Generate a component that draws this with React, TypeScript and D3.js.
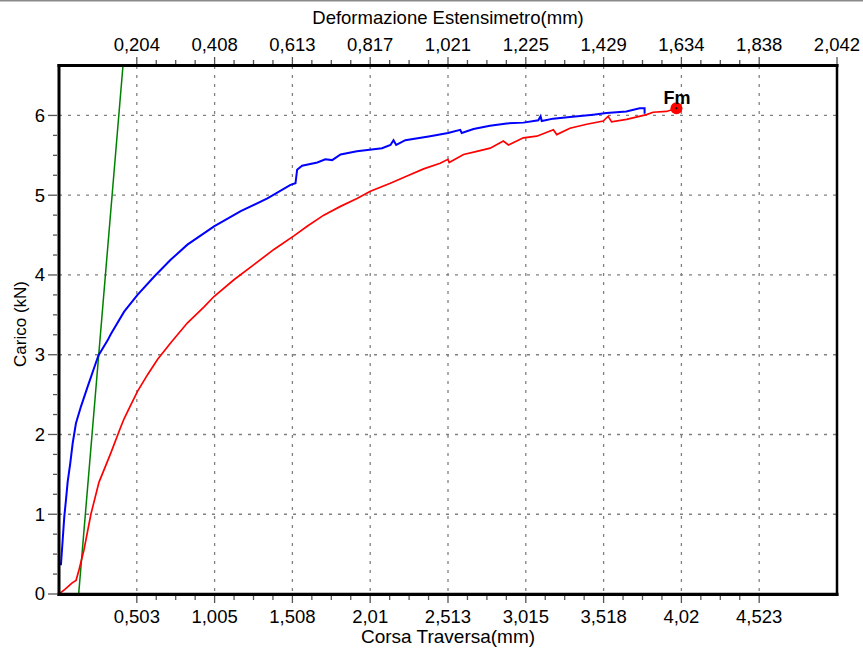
import React from 'react'
import * as d3 from 'd3'

// curva traversa (mm corsa traversa, kN)
const redCurve: [number, number][] = [
  [0, 0], [0.04, 0.06], [0.085, 0.14], [0.11, 0.17], [0.129, 0.3], [0.161, 0.55],
  [0.206, 1.0], [0.258, 1.4], [0.335, 1.77], [0.4, 2.1], [0.421, 2.2], [0.464, 2.37],
  [0.507, 2.54], [0.572, 2.75], [0.636, 2.94], [0.722, 3.15], [0.83, 3.4], [0.937, 3.6],
  [1.001, 3.73], [1.13, 3.94], [1.259, 4.13], [1.388, 4.32], [1.517, 4.49], [1.603, 4.61],
  [1.71, 4.75], [1.818, 4.86], [1.925, 4.96], [2.011, 5.05], [2.14, 5.15], [2.248, 5.24],
  [2.355, 5.33], [2.462, 5.4], [2.512, 5.45], [2.52, 5.41], [2.613, 5.51], [2.699, 5.55],
  [2.785, 5.59], [2.87, 5.68], [2.903, 5.63], [2.999, 5.72], [3.086, 5.74], [3.193, 5.82],
  [3.215, 5.76], [3.3, 5.84], [3.408, 5.89], [3.515, 5.93], [3.547, 5.99], [3.569, 5.92],
  [3.666, 5.95], [3.795, 6.01], [3.837, 6.04], [3.924, 6.05], [3.988, 6.09]
]

// curva estensimetro (mm deformazione, kN)
const blueCurve: [number, number][] = [
  [0.005, 0.36], [0.0097, 0.68], [0.0139, 0.97], [0.0183, 1.18], [0.0228, 1.41],
  [0.0296, 1.64], [0.0359, 1.89], [0.0445, 2.14], [0.0576, 2.35], [0.0752, 2.6],
  [0.0925, 2.84], [0.1035, 2.99], [0.1276, 3.18], [0.1362, 3.26], [0.171, 3.54],
  [0.206, 3.75], [0.25, 3.98], [0.293, 4.19], [0.337, 4.38], [0.407, 4.61], [0.477, 4.8],
  [0.547, 4.96], [0.6076, 5.13], [0.6207, 5.15], [0.625, 5.32], [0.638, 5.37], [0.678, 5.41],
  [0.699, 5.45], [0.717, 5.44], [0.739, 5.51], [0.782, 5.55], [0.848, 5.59], [0.87, 5.63],
  [0.878, 5.69], [0.885, 5.63], [0.909, 5.69], [0.974, 5.74], [1.021, 5.78], [1.053, 5.82],
  [1.057, 5.78], [1.088, 5.83], [1.131, 5.87], [1.175, 5.9], [1.219, 5.91], [1.258, 5.94],
  [1.264, 5.99], [1.267, 5.93], [1.297, 5.96], [1.341, 5.98], [1.402, 6.01], [1.437, 6.03],
  [1.489, 6.05], [1.524, 6.09], [1.537, 6.09], [1.537, 6.02]
]

// retta del modulo (corsa traversa)
const greenLine: [number, number][] = [[0.127, 0], [0.413, 6.62]]

const fmPoint: [number, number] = [3.988, 6.09]

const bottomTicks = [0.5025, 1.005, 1.5075, 2.01, 2.5125, 3.015, 3.5175, 4.02, 4.5225]
const bottomLabels = ['0,503', '1,005', '1,508', '2,01', '2,513', '3,015', '3,518', '4,02', '4,523']
const topTicks = [0.2042, 0.4084, 0.6126, 0.8168, 1.021, 1.2252, 1.4294, 1.6336, 1.8378, 2.042]
const topLabels = ['0,204', '0,408', '0,613', '0,817', '1,021', '1,225', '1,429', '1,634', '1,838', '2,042']
const yTicks = [0, 1, 2, 3, 4, 5, 6]

const W = 863
const H = 653
const font = '"Liberation Sans", Arial, sans-serif'

const App = () => {
  const x = d3.scaleLinear().domain([0, 5.025]).range([59, 837])
  const xTop = d3.scaleLinear().domain([0, 2.042]).range([59, 837])
  const y = d3.scaleLinear().domain([0, 6.62]).range([594, 66])

  const lineBottom = d3.line<[number, number]>().x(d => x(d[0])).y(d => y(d[1]))
  const lineTop = d3.line<[number, number]>().x(d => xTop(d[0])).y(d => y(d[1]))

  // minor ticks: 4 subdivisions between labelled majors
  const minors = (ticks: number[]) => {
    const out: number[] = []
    for (let i = 0; i < ticks.length - 1; i++) {
      const step = (ticks[i + 1] - ticks[i]) / 4
      for (let k = 1; k < 4; k++) out.push(ticks[i] + k * step)
    }
    return out
  }
  const bottomMinor = minors(bottomTicks)
  const topMinor = minors(topTicks.slice(0, 9))
  const yMinor = minors(yTicks)

  const grid = { stroke: '#808080', strokeWidth: 1.3, strokeDasharray: '3,6' }

  return (
    <svg width={W} height={H} style={{ position: 'absolute', left: 0, top: 0, background: '#fff' }}
      fontFamily={font}>
      <line x1={0} x2={W} y1={0.75} y2={0.75} stroke="#8a8a8a" strokeWidth={1.5} />
      <defs>
        <clipPath id="plot">
          <rect x={59} y={66} width={778} height={528} />
        </clipPath>
      </defs>

      {/* griglia */}
      {bottomTicks.map((t, i) => (
        <line key={'gv' + i} x1={x(t)} x2={x(t)} y1={66} y2={594} {...grid} />
      ))}
      {yTicks.slice(1).map(t => (
        <line key={'gh' + t} x1={59} x2={837} y1={y(t)} y2={y(t)} {...grid} />
      ))}

      <g clipPath="url(#plot)">
        <path d={lineBottom(greenLine) || ''} fill="none" stroke="#008000" strokeWidth={1.5} />
        <path d={lineBottom(redCurve) || ''} fill="none" stroke="#ff0000" strokeWidth={1.7} />
        <path d={lineTop(blueCurve) || ''} fill="none" stroke="#0000ff" strokeWidth={2} />
      </g>

      <circle cx={x(fmPoint[0])} cy={y(fmPoint[1])} r={6} fill="#ff0000" />
      <circle cx={x(fmPoint[0])} cy={y(fmPoint[1])} r={1} fill="#000" />
      <text x={x(fmPoint[0]) - 13} y={y(fmPoint[1]) - 4} fontSize={18} fontWeight="bold">Fm</text>

      {/* cornice */}
      <line x1={57.5} x2={838.5} y1={65.5} y2={65.5} stroke="#000" strokeWidth={3} />
      <line x1={57.5} x2={838.5} y1={594.3} y2={594.3} stroke="#000" strokeWidth={3.3} />
      <line x1={59} x2={59} y1={64} y2={596} stroke="#000" strokeWidth={3} />
      <line x1={837} x2={837} y1={64} y2={596} stroke="#000" strokeWidth={2.5} />

      {/* asse inferiore */}
      {bottomTicks.map((t, i) => (
        <g key={'bt' + i}>
          <line x1={x(t)} x2={x(t)} y1={596} y2={603} stroke="#555" strokeWidth={1.3} />
          <text x={x(t)} y={623} textAnchor="middle" fontSize={18.5}>{bottomLabels[i]}</text>
        </g>
      ))}
      {bottomMinor.map((t, i) => (
        <line key={'bm' + i} x1={x(t)} x2={x(t)} y1={596} y2={600} stroke="#555" strokeWidth={1.3} />
      ))}

      {/* asse superiore */}
      {topTicks.map((t, i) => (
        <g key={'tt' + i}>
          <line x1={xTop(t)} x2={xTop(t)} y1={57} y2={64} stroke="#555" strokeWidth={1.3} />
          <text x={xTop(t)} y={51} textAnchor="middle" fontSize={18.5}>{topLabels[i]}</text>
        </g>
      ))}
      {topMinor.map((t, i) => (
        <line key={'tm' + i} x1={xTop(t)} x2={xTop(t)} y1={60} y2={64} stroke="#555" strokeWidth={1.3} />
      ))}

      {/* asse sinistro */}
      {yTicks.map(t => (
        <g key={'yt' + t}>
          <line x1={48} x2={57} y1={y(t)} y2={y(t)} stroke="#555" strokeWidth={1.3} />
          <text x={45} y={y(t)} dy="0.35em" textAnchor="end" fontSize={18.5}>{t}</text>
        </g>
      ))}
      {yMinor.map((t, i) => (
        <line key={'ym' + i} x1={53} x2={57} y1={y(t)} y2={y(t)} stroke="#555" strokeWidth={1.3} />
      ))}

      <text x={448} y={24} textAnchor="middle" fontSize={18.5}>Deformazione Estensimetro(mm)</text>
      <text x={448} y={643} textAnchor="middle" fontSize={19}>Corsa Traversa(mm)</text>
      <text transform="translate(26,324) rotate(-90)" textAnchor="middle" fontSize={17}>Carico (kN)</text>
    </svg>
  )
}

export default App
